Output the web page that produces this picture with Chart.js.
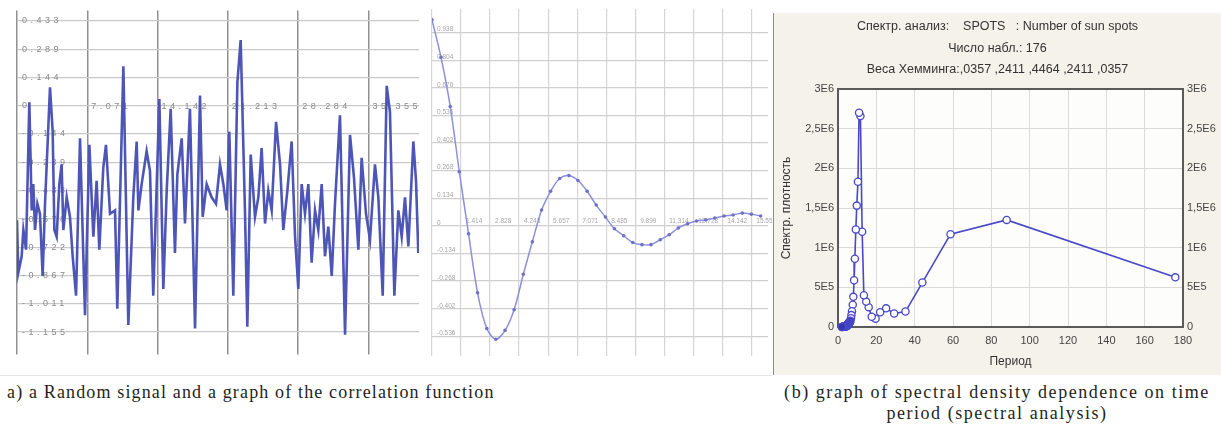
<!DOCTYPE html>
<html>
<head>
<meta charset="utf-8">
<script src="https://cdn.jsdelivr.net/npm/chart.js@4.4.1/dist/chart.umd.min.js"></script>
<style>
  body { margin: 0; background: #fff; width: 1221px; height: 430px; position: relative; overflow: hidden; }
  canvas { position: absolute; display: block; }
  #signal { left: 7px; top: 0; }
  #corr { left: 428px; top: 0; }
  #spectr-box { position: absolute; left: 773px; top: 13px; width: 448px; height: 362px; border-left: 1px solid #8c8c8c; box-sizing: border-box; }
  #spectr { left: 0; top: 0; }
  .rule { position: absolute; left: 0; top: 375px; width: 772px; height: 1px; background: #e4e4e4; }
  .cap { position: absolute; font-family: "Liberation Serif", serif; font-size: 18px; color: #231f20; line-height: 21px; }
  #cap-a { left: 7px; top: 382px; letter-spacing: 1.15px; }
  #cap-b { left: 773px; top: 382px; width: 448px; text-align: center; letter-spacing: 1.55px; }
</style>
</head>
<body>
<canvas id="signal" width="415" height="365"></canvas>
<canvas id="corr" width="344" height="365"></canvas>
<div id="spectr-box"><canvas id="spectr" width="447" height="362"></canvas></div>
<div class="rule"></div>
<div class="cap" id="cap-a">a) a Random signal and a graph of the correlation function</div>
<div class="cap" id="cap-b">(b) graph of spectral density dependence on time<br>period (spectral analysis)</div>

<script>
// a) random signal
const signalTime = [
  0, 0.13, 0.47, 0.64, 0.91, 1.24, 1.48, 1.64, 1.81, 2.05,
  2.31, 2.58, 2.82, 3.32, 3.59, 3.76, 3.99, 4.26, 4.49, 4.66,
  5.00, 5.33, 5.60, 5.94, 6.34, 6.84, 7.28, 7.68, 8.01, 8.28,
  8.68, 8.95, 9.36, 9.86, 10.09, 10.70, 11.20, 11.70, 12.04, 12.21,
  12.54, 13.04, 13.38, 13.71, 14.32, 14.72, 15.06, 15.46, 15.89, 16.13,
  16.57, 16.90, 17.40, 17.91, 18.41, 18.68, 19.08, 19.58, 20.02, 20.42,
  20.76, 21.09, 21.36, 21.76, 22.17, 22.50, 22.94, 23.17, 23.51, 23.94,
  24.28, 24.61, 24.95, 25.28, 25.62, 26.06, 26.46, 26.79, 27.20, 27.63,
  27.97, 28.30, 28.64, 28.97, 29.31, 29.64, 29.98, 30.31, 30.65, 30.98,
  31.32, 31.66, 31.99, 32.49, 33.00, 33.50, 33.90, 34.34, 34.67, 35.11,
  35.51, 36.01, 36.35, 36.79, 37.19, 37.52, 37.96, 38.36, 38.70, 39.03,
  39.37, 39.87, 40.14, 40.37
];
const signalValue = [
  -0.584, -0.852, -0.768, -0.634, -0.734, 0.018, -0.534, -0.400, -0.634, -0.500,
  -0.551, -0.868, -0.500, 0.094, -0.132, -0.634, -0.668, -0.400, -0.299, -0.634,
  -0.467, -0.567, -0.768, -0.969, -0.166, -1.069, -0.199, -0.668, -0.383, -0.734,
  -0.316, -0.199, -0.551, -0.534, -1.036, 0.202, -1.119, -0.467, -0.182, -0.534,
  -0.400, -0.232, -0.333, -0.969, 0.035, -0.935, -0.433, -0.015, -0.751, -0.350,
  -0.166, -0.601, -0.015, -1.136, 0.052, -0.567, -0.400, -0.467, -0.500, -0.299,
  -0.400, -0.534, -0.132, -0.969, 0.119, 0.336, -0.551, -1.128, -0.249, -0.567,
  -0.467, -0.216, -0.601, -0.433, -0.534, -0.082, -0.299, -0.634, -0.433, -0.182,
  -0.668, -0.935, -0.400, -0.551, -0.400, -0.801, -0.534, -0.634, -0.400, -0.768,
  -0.617, -0.868, -0.500, -0.049, -1.169, -0.149, -0.366, -0.734, -0.266, -0.551,
  -0.684, -0.299, -0.467, -0.969, 0.102, -0.032, -0.969, -0.534, -0.668, -0.467,
  -0.718, -0.182, -0.383, -0.751
];
const signalTicksX = [0, 7.071, 14.142, 21.213, 28.284, 35.355];
const signalTicksY = [0.433, 0.289, 0.144, 0, -0.144, -0.289, -0.433, -0.578, -0.722, -0.867, -1.011, -1.155];

// correlation function
const corrLag = [
  0, 0.44, 0.89, 1.33, 1.78, 2.22, 2.67, 3.11, 3.56, 4.0,
  4.45, 4.89, 5.34, 5.78, 6.22, 6.67, 7.11, 7.56, 8.0, 8.45,
  8.89, 9.34, 9.78, 10.23, 10.67, 11.12, 11.56, 12.0, 12.45, 12.89,
  13.34, 13.78, 14.23, 14.67, 15.12, 15.56, 16.01
];
const corrValue = [
  1.0, 0.818, 0.579, 0.263, -0.038, -0.325, -0.498, -0.550, -0.507, -0.407,
  -0.235, -0.077, 0.077, 0.168, 0.230, 0.244, 0.220, 0.168, 0.101, 0.043,
  -0.014, -0.048, -0.081, -0.091, -0.091, -0.067, -0.043, -0.010, 0.010, 0.024,
  0.029, 0.038, 0.048, 0.053, 0.062, 0.057, 0.048
];
const corrTicksX = [0, 1.414, 2.828, 4.243, 5.657, 7.071, 8.485, 9.899, 11.314, 12.728, 14.142, 15.556];
const corrTicksY = [0.938, 0.804, 0.670, 0.536, 0.402, 0.268, 0.134, 0, -0.134, -0.268, -0.402, -0.536];

// b) spectral analysis
const spotPeriod = [
  176, 88, 58.7, 44, 35.2, 29.3, 25.1, 22, 19.6, 17.6,
  16, 14.7, 13.5, 12.6, 11.7, 11, 10.4, 9.8, 9.3, 8.8,
  8.4, 8, 7.7, 7.3, 7, 6.8, 6.5, 6.3, 6.1, 5.9,
  5.7, 5.5, 5.3, 5.2, 5, 4.9, 4.8, 4.6, 4.5, 4.4,
  4.3, 4.2, 4.1, 4, 3.8, 3.7, 3.5, 3.4, 3.2, 3,
  2.9, 2.7, 2.5, 2.3, 2.1, 2
];
const spotDensity = [
  626000, 1350000, 1170000, 560000, 195000, 170000, 235000, 185000, 105000, 130000,
  250000, 320000, 400000, 1200000, 2660000, 2700000, 1830000, 1530000, 1230000, 860000,
  590000, 380000, 280000, 200000, 150000, 110000, 80000, 60000, 70000, 50000,
  40000, 55000, 30000, 25000, 35000, 20000, 15000, 25000, 12000, 10000,
  15000, 8000, 6000, 10000, 5000, 7000, 4000, 5000, 3000, 4000,
  2000, 3000, 2000, 2000, 1000, 1000
];
const spotYLabels = ["0", "5E5", "1E6", "1,5E6", "2E6", "2,5E6", "3E6"];
const spotTitle = [
  "Спектр. анализ:    SPOTS   : Number of sun spots",
  "Число набл.: 176",
  "Веса Хемминга:,0357 ,2411 ,4464 ,2411 ,0357"
];

const toPoints = (xs, ys) => xs.map((x, i) => ({ x: x, y: ys[i] }));
const fixTicks = (list) => (scale) => { scale.ticks = list.map((v) => ({ value: v })); };
const fmt3 = (v) => (v === 0 ? "0" : v.toFixed(3));

const spacedLabels = {
  id: "spacedLabels",
  beforeDraw(chart, args, opts) {
    chart.ctx.letterSpacing = opts.spacing || "0px";
  },
};

// ---- signal
const chart_signal = new Chart(document.getElementById("signal"), {
  type: "line",
  data: {
    datasets: [{
      data: toPoints(signalTime, signalValue),
      borderColor: "#4d56b6",
      borderWidth: 2.6,
      pointRadius: 0,
      tension: 0,
    }],
  },
  options: {
    responsive: false,
    animation: false,
    layout: { padding: { left: 10, right: 3, top: 10, bottom: 5 } },
    plugins: { legend: { display: false }, tooltip: { enabled: false }, spacedLabels: { spacing: "3.5px" } },
    scales: {
      x: {
        type: "linear", min: 0, max: 40.44,
        position: { y: 0 },
        afterBuildTicks: fixTicks(signalTicksX),
        afterFit: (s) => { s.height = 0; },
        border: { display: false },
        grid: { color: "#8f8f8f", lineWidth: 1.5, drawTicks: false },
        ticks: {
          align: "start", labelOffset: 4, padding: -5,
          font: { family: "Liberation Sans", size: 9 }, color: "#8a8a8a",
          callback: (v) => (v === 0 ? "" : v.toFixed(3)),
        },
      },
      y: {
        min: -1.27, max: 0.487,
        afterBuildTicks: fixTicks(signalTicksY),
        afterFit: (s) => { s.width = 0; },
        border: { display: false },
        grid: { color: "#c9c9c9", lineWidth: 1.2, drawTicks: false },
        ticks: {
          mirror: true, padding: 5,
          font: { family: "Liberation Sans", size: 9 }, color: "#8a8a8a",
          callback: fmt3,
        },
      },
    },
  },
  plugins: [spacedLabels],
});

// ---- correlation
const chart_corr = new Chart(document.getElementById("corr"), {
  type: "line",
  data: {
    datasets: [{
      data: toPoints(corrLag, corrValue),
      borderColor: "#8d8fdc",
      borderWidth: 1.5,
      pointRadius: 1.8,
      pointBackgroundColor: "#6f71c6",
      pointBorderWidth: 0,
      tension: 0.3,
    }],
  },
  options: {
    responsive: false,
    animation: false,
    layout: { padding: { left: 4, right: 2, top: 8, bottom: 5 } },
    plugins: { legend: { display: false }, tooltip: { enabled: false } },
    scales: {
      x: {
        type: "linear", min: 0, max: 16.37,
        position: { y: 0 },
        afterBuildTicks: fixTicks(corrTicksX),
        afterFit: (s) => { s.height = 0; },
        border: { display: false },
        grid: { color: "#d4d4d4", lineWidth: 1.2, drawTicks: false },
        ticks: {
          align: "start", labelOffset: 5, padding: -9,
          font: { family: "Liberation Sans", size: 6.5 }, color: "#a5a5a5",
          callback: (v) => (v === 0 ? "" : v.toFixed(3)),
        },
      },
      y: {
        min: -0.632, max: 1.053,
        afterBuildTicks: fixTicks(corrTicksY),
        afterFit: (s) => { s.width = 0; },
        border: { display: false },
        grid: { color: "#cfcfcf", lineWidth: 1.2, drawTicks: false },
        ticks: {
          mirror: true, padding: 5, labelOffset: -3,
          font: { family: "Liberation Sans", size: 6.5 }, color: "#a5a5a5",
          callback: fmt3,
        },
      },
    },
  },
});

// ---- spectral density
const statFrame = {
  id: "statFrame",
  beforeDraw(chart) {
    const { ctx, chartArea: a } = chart;
    ctx.save();
    ctx.fillStyle = "#f4f2ea";
    ctx.fillRect(0, 0, chart.width, chart.height);
    ctx.fillStyle = "#fdfdfb";
    ctx.fillRect(a.left, a.top, a.right - a.left, a.bottom - a.top);
    ctx.restore();
  },
  beforeDatasetsDraw(chart) {
    const { ctx, chartArea: a } = chart;
    ctx.save();
    ctx.strokeStyle = "#5a5a5a";
    ctx.lineWidth = 2;
    ctx.strokeRect(a.left, a.top, a.right - a.left, a.bottom - a.top);
    ctx.restore();
  },
};

const statFont = { family: "Liberation Sans", size: 11 };
const chart_spectr = new Chart(document.getElementById("spectr"), {
  type: "line",
  data: {
    datasets: [{
      data: toPoints(spotPeriod, spotDensity),
      borderColor: "#4848c8",
      borderWidth: 1.6,
      pointRadius: 3.6,
      pointBorderWidth: 1.3,
      pointBorderColor: "#4848c8",
      pointBackgroundColor: (c) => (c.raw && c.raw.y < 100000 ? "#3434b4" : "#ffffff"),
      tension: 0,
      clip: 6,
    }],
  },
  options: {
    responsive: false,
    animation: false,
    layout: { padding: 0 },
    plugins: {
      legend: { display: false },
      tooltip: { enabled: false },
      title: {
        display: true,
        text: spotTitle,
        color: "#333",
        font: { family: "Liberation Sans", size: 12.5, weight: "normal", lineHeight: 1.72 },
        padding: { top: 3, bottom: 8.5 },
      },
    },
    scales: {
      x: {
        type: "linear", min: 0, max: 180,
        ticks: { stepSize: 20, padding: 7, color: "#444", font: statFont, maxRotation: 0 },
        afterFit: (s) => { s.height = 48; },
        grid: { color: "#dadada", drawTicks: false },
        border: { display: false },
        title: { display: true, text: "Период", color: "#333", font: { family: "Liberation Sans", size: 12 }, padding: { top: 0, bottom: 6 } },
      },
      y: {
        min: 0, max: 3000000,
        ticks: { stepSize: 500000, padding: 4, color: "#444", font: statFont, callback: (v) => spotYLabels[Math.round(v / 500000)] },
        afterFit: (s) => { s.width = 64; },
        grid: { color: "#dadada", drawTicks: false },
        border: { display: false },
        title: { display: true, text: "Спектр. плотность", color: "#333", font: { family: "Liberation Sans", size: 12 }, padding: { top: 5, bottom: 0 } },
      },
      y2: {
        position: "right",
        min: 0, max: 3000000,
        ticks: { stepSize: 500000, padding: 4, color: "#444", font: statFont, callback: (v) => spotYLabels[Math.round(v / 500000)] },
        afterFit: (s) => { s.width = 38; },
        grid: { display: false, drawTicks: false },
        border: { display: false },
      },
    },
  },
  plugins: [statFrame],
});
</script>
</body>
</html>
